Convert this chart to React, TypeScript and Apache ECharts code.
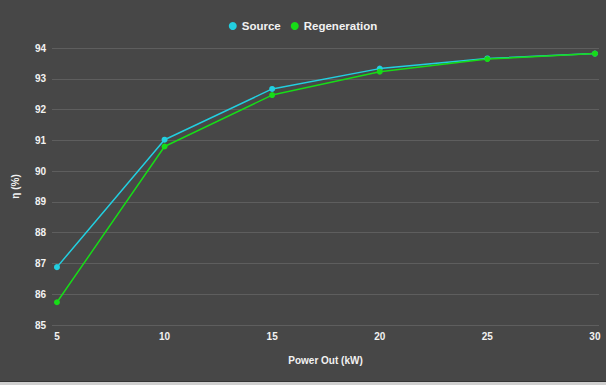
import React, { useEffect, useRef } from "react";
import * as echarts from "echarts";

const powerOut = [5, 10, 15, 20, 25, 30];
const sourceEff = [86.88, 91.02, 92.67, 93.33, 93.66, 93.82];
const regenEff = [85.74, 90.8, 92.47, 93.23, 93.64, 93.82];
const seriesNames = ["Source", "Regeneration"];

export default function App() {
  const ref = useRef<HTMLDivElement>(null);
  useEffect(() => {
    document.body.style.margin = "0";
    const chart = echarts.init(ref.current!, null, { renderer: "svg" });
    const font = "'Liberation Sans', Arial, sans-serif";
    chart.setOption({
      animation: false,
      backgroundColor: "#474747",
      textStyle: { fontFamily: font },
      legend: {
        top: 15,
        left: "center",
        itemWidth: 8,
        itemHeight: 8,
        itemGap: 10,
        icon: "circle",
        textStyle: { color: "#f2f2f2", fontWeight: "bold", fontSize: 11.5, fontFamily: font },
        data: seriesNames,
      },
      grid: { left: 52, right: 7, top: 48, bottom: 56, containLabel: false },
      xAxis: {
        type: "value",
        min: 4.77,
        max: 30.19,
        name: "Power Out (kW)",
        nameLocation: "middle",
        nameGap: 30,
        nameTextStyle: { color: "#f2f2f2", fontWeight: "bold", fontSize: 10, fontFamily: font },
        axisLine: { show: false },
        axisTick: { show: false },
        splitLine: { show: false },
        axisLabel: {
          customValues: powerOut,
          color: "#f2f2f2",
          fontWeight: "bold",
          fontSize: 10,
          margin: 6,
          fontFamily: font,
        },
      },
      yAxis: {
        type: "value",
        min: 85,
        max: 94,
        interval: 1,
        name: "η (%)",
        nameLocation: "middle",
        nameGap: 32,
        nameRotate: 90,
        nameTextStyle: { color: "#f2f2f2", fontWeight: "bold", fontSize: 10, fontFamily: font },
        axisLine: { show: false },
        axisTick: { show: false },
        splitLine: { lineStyle: { color: "#5e5e5e", width: 1 } },
        axisLabel: { color: "#f2f2f2", fontWeight: "bold", fontSize: 10, margin: 6, fontFamily: font },
      },
      series: [
        {
          name: seriesNames[0],
          type: "line",
          data: powerOut.map((x, i) => [x, sourceEff[i]]),
          symbol: "circle",
          symbolSize: 6,
          color: "#22cfe0",
          lineStyle: { width: 1.5, color: "#22cfe0" },
          itemStyle: { color: "#22cfe0" },
        },
        {
          name: seriesNames[1],
          type: "line",
          data: powerOut.map((x, i) => [x, regenEff[i]]),
          symbol: "circle",
          symbolSize: 6,
          color: "#17dc17",
          lineStyle: { width: 1.5, color: "#17dc17" },
          itemStyle: { color: "#17dc17" },
        },
      ],
    });
    return () => chart.dispose();
  }, []);
  return (
    <div style={{ width: 606, height: 385, background: "#cfcfcf" }}>
      <div ref={ref} style={{ width: 606, height: 381, borderBottom: "1px solid #333" }} />
    </div>
  );
}
